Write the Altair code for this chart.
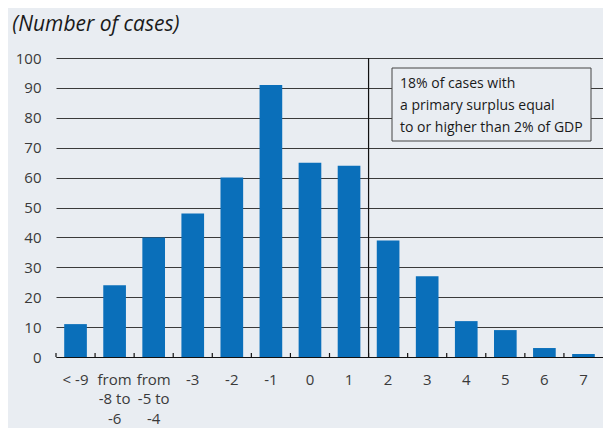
import altair as alt
import pandas as pd

categories = ["< -9", "from|-8 to|-6", "from|-5 to|-4", "-3", "-2", "-1", "0",
              "1", "2", "3", "4", "5", "6", "7"]
cases = [11, 24, 40, 48, 60, 91, 65, 64, 39, 27, 12, 9, 3, 1]
y_ticks = list(range(0, 101, 10))
divider_at = ["2"]
note_lines = ["18% of cases with", "a primary surplus equal", "to or higher than 2% of GDP"]

df = pd.DataFrame({"cat": categories, "cases": cases})

BG = "#e9edf2"
BLUE = "#0a6fba"
FONT = "Open Sans"
TXT = "#3a3a3a"
W, H = 547, 299
STEP = W / len(categories)
PI = 0.42
OFF = -PI * STEP / 2

xscale = alt.Scale(domain=categories, paddingInner=PI, paddingOuter=PI / 2)
yscale = alt.Scale(domain=[0, 100], nice=False)

x_axis = alt.Axis(title=None, labelAngle=0, labelExpr="split(datum.label, '|')",
                  ticks=False, domain=True, domainColor="#111", domainWidth=1.2,
                  labelFont=FONT, labelFontSize=15, labelColor=TXT,
                  labelPadding=15, labelLineHeight=19.5, grid=False)
y_axis = alt.Axis(title=None, values=y_ticks, tickCount=11, labelOverlap=False,
                  ticks=False, domain=False, grid=True,
                  gridColor="#3a3a3a", gridWidth=1, labelFont=FONT, labelFontSize=15,
                  labelColor=TXT, labelPadding=15)

bars = alt.Chart(df).mark_bar(color=BLUE).encode(
    x=alt.X("cat:N", scale=xscale, sort=categories, axis=x_axis),
    y=alt.Y("cases:Q", scale=yscale, axis=y_axis),
)

ticks = alt.Chart(df).mark_rule(color="#111", strokeWidth=1.2, xOffset=OFF).encode(
    x=alt.X("cat:N", scale=xscale, sort=categories, bandPosition=0),
    y=alt.value(H),
    y2=alt.value(H - 4),
)

divider = alt.Chart(pd.DataFrame({"cat": divider_at})).mark_rule(
    color="#111", strokeWidth=1.2, xOffset=OFF).encode(
    x=alt.X("cat:N", scale=xscale, sort=categories, bandPosition=0),
    y=alt.value(0),
    y2=alt.value(H),
)

one = pd.DataFrame({"a": [0]})
box = alt.Chart(one).mark_rect(fill=BG, stroke="#444", strokeWidth=1).encode(
    x=alt.value(336), x2=alt.value(535), y=alt.value(10), y2=alt.value(83)
)
note = alt.Chart(one).mark_text(
    align="left", baseline="top", font=FONT, fontSize=14, lineHeight=22,
    color="#1a1a1a", text=note_lines
).encode(x=alt.value(344), y=alt.value(19))

chart = alt.layer(bars, ticks, divider, box, note).properties(
    width=W, height=H,
    padding={"left": 48, "top": 50, "right": 0, "bottom": 71},
    autosize=alt.AutoSizeParams(type="none"),
    background=BG,
    title=alt.TitleParams("(Number of cases)", anchor="start", dx=-3,
                          fontStyle="italic", fontWeight="normal", fontSize=21,
                          font=FONT, color="#1a1a1a", offset=16),
).configure_view(stroke=None)

chart.save("out.html", embed_options={"renderer": "svg", "actions": False})
